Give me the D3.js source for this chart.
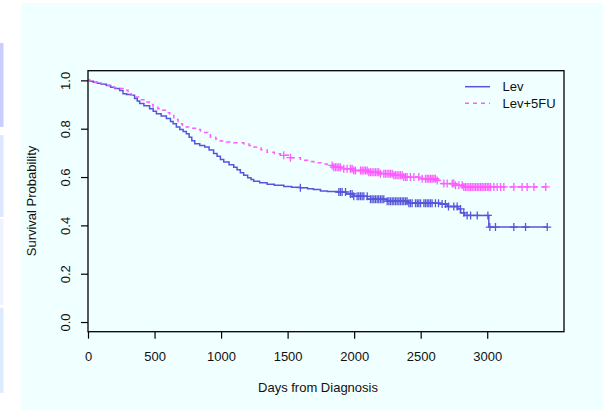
<!DOCTYPE html>
<html lang="en">
<head>
<meta charset="UTF-8">
<title>Survival by treatment</title>
<script src="https://d3js.org/d3.v7.min.js"></script>
<style>
    body { margin: 0; background: #ffffff; }
    svg { display: block; font-family: "Liberation Sans", Arial, sans-serif; }
    .tick text { font-size: 13px; fill: #111; }
</style>
</head>
<body>
<svg id="chart" width="603" height="413"></svg>
<script>
// Lev arm: event times (days) and survival after each step
const levTime = [0, 12, 40, 70, 100, 138, 170, 200, 238, 263, 290, 326, 350, 370, 388, 420, 463, 490, 514, 550, 589,
    620, 640, 664, 690, 715, 739, 760, 780, 802, 840, 877, 910, 944, 970, 995, 1020, 1060, 1095, 1120, 1145, 1170,
    1200, 1225, 1245, 1290, 1346, 1400, 1471, 1530, 1596, 1650, 1694, 1747, 1800, 1884, 1940, 1997, 2100, 2248,
    2400, 2650, 2700, 2780, 2800, 2830, 3012];
const levSurv = [1.0, 0.996, 0.992, 0.988, 0.984, 0.979, 0.972, 0.966, 0.958, 0.945, 0.942, 0.938, 0.925, 0.915,
    0.904, 0.895, 0.883, 0.872, 0.862, 0.853, 0.842, 0.830, 0.820, 0.807, 0.797, 0.788, 0.779, 0.765, 0.750, 0.738,
    0.731, 0.724, 0.712, 0.697, 0.686, 0.673, 0.662, 0.651, 0.641, 0.630, 0.618, 0.607, 0.597, 0.590, 0.583, 0.576,
    0.570, 0.566, 0.561, 0.558, 0.556, 0.552, 0.548, 0.542, 0.540, 0.538, 0.530, 0.520, 0.508, 0.500, 0.492, 0.488,
    0.478, 0.468, 0.452, 0.441, 0.393];
const levCensor = [1596, 1885, 1897, 1910, 1935, 1972, 1985, 1997, 2022, 2035, 2048, 2060, 2073, 2098, 2123, 2135, 2148,
    2160, 2173, 2185, 2198, 2210, 2223, 2248, 2261, 2273, 2286, 2298, 2311, 2323, 2336, 2348, 2361, 2373, 2386, 2398,
    2411, 2423, 2436, 2461, 2474, 2486, 2499, 2524, 2536, 2549, 2561, 2574, 2586, 2611, 2634, 2661, 2686, 2709, 2749,
    2774, 2799, 2824, 2849, 2875, 2925, 3005, 3020, 3062, 3200, 3288, 3451];

// Lev+5FU arm
const lev5Time = [0, 12, 50, 87, 120, 162, 200, 238, 275, 301, 325, 350, 390, 426, 460, 489, 525, 564, 590, 614, 645,
    677, 710, 739, 775, 814, 845, 877, 900, 920, 960, 995, 1040, 1095, 1170, 1210, 1245, 1300, 1346, 1400, 1446,
    1520, 1596, 1650, 1696, 1750, 1797, 1847, 1920, 1997, 2100, 2198, 2290, 2373, 2500, 2624, 2649, 2750, 2824];
const lev5Surv = [1.0, 0.997, 0.991, 0.986, 0.980, 0.972, 0.969, 0.966, 0.959, 0.945, 0.938, 0.931, 0.920, 0.910,
    0.900, 0.890, 0.883, 0.876, 0.866, 0.855, 0.838, 0.821, 0.814, 0.807, 0.802, 0.797, 0.790, 0.784, 0.775, 0.765,
    0.757, 0.749, 0.745, 0.742, 0.738, 0.731, 0.724, 0.713, 0.703, 0.696, 0.690, 0.680, 0.669, 0.664, 0.659, 0.654,
    0.648, 0.641, 0.634, 0.627, 0.620, 0.614, 0.607, 0.600, 0.593, 0.586, 0.573, 0.566, 0.559];
const lev5Censor = [1471, 1521, 1835, 1847, 1860, 1872, 1885, 1897, 1922, 1947, 1972, 1985, 1997, 2010, 2048, 2060,
    2073, 2085, 2098, 2110, 2123, 2135, 2148, 2160, 2173, 2185, 2198, 2223, 2235, 2248, 2261, 2273, 2286, 2298, 2311,
    2323, 2336, 2348, 2361, 2373, 2386, 2398, 2423, 2449, 2486, 2511, 2536, 2549, 2561, 2574, 2586, 2599, 2611, 2624,
    2674, 2699, 2737, 2749, 2762, 2787, 2812, 2824, 2837, 2849, 2862, 2875, 2887, 2900, 2912, 2925, 2937, 2950, 2962,
    2975, 2987, 3000, 3012, 3025, 3050, 3075, 3100, 3125, 3200, 3262, 3300, 3351, 3440];

const lastTime = 3456;
const seriesNames = ["Lev", "Lev+5FU"];
const seriesColors = ["#5656dc", "#ff5cff"];
const xTicks = [0, 500, 1000, 1500, 2000, 2500, 3000];
const yTicks = [0, 0.2, 0.4, 0.6, 0.8, 1.0];

const svg = d3.select("#chart");

// page decoration: light panel and the left strip boxes
svg.append("rect").attr("x", 21).attr("y", 3).attr("width", 582).attr("height", 407).attr("fill", "#f0ffff");
const strips = [[43, 127, "#c9cdff"], [135, 217, "#dde7ff"], [219, 305, "#eef3ff"], [308, 393, "#dcebff"]];
strips.forEach(s => svg.append("rect").attr("x", 0).attr("y", s[0]).attr("width", 3.5)
    .attr("height", s[1] - s[0]).attr("fill", s[2]));

const x = d3.scaleLinear().domain([0, 3577]).range([88, 564]);
const y = d3.scaleLinear().domain([-0.04, 1.04]).range([331.7, 70.7]);

function survAt(times, surv, t) {
    let s = surv[0];
    for (let i = 0; i < times.length; i++) { if (times[i] <= t) s = surv[i]; }
    return s;
}

const arms = [
    { time: levTime, surv: levSurv, censor: levCensor, color: seriesColors[0], dash: null },
    { time: lev5Time, surv: lev5Surv, censor: lev5Censor, color: seriesColors[1], dash: "4,4" }
];

const line = d3.line().x(d => x(d[0])).y(d => y(d[1])).curve(d3.curveStepAfter);

arms.forEach(a => {
    const pts = a.time.map((t, i) => [t, a.surv[i]]);
    pts.push([lastTime, a.surv[a.surv.length - 1]]);
    svg.append("path").datum(pts)
        .attr("fill", "none").attr("stroke", a.color).attr("stroke-width", 1.5)
        .attr("stroke-dasharray", a.dash).attr("d", line);

    svg.append("g").selectAll("path").data(a.censor).enter().append("path")
        .attr("transform", t => `translate(${x(t)},${y(survAt(a.time, a.surv, t))})`)
        .attr("d", "M-4,0H4M0,-4V4")
        .attr("stroke", a.color).attr("stroke-width", 1.3).attr("fill", "none");
});

// frame
svg.append("rect").attr("x", 88).attr("y", 70.7).attr("width", 476).attr("height", 261)
    .attr("fill", "none").attr("stroke", "#000").attr("stroke-width", 1.3);

// x axis
const xg = svg.append("g").attr("transform", "translate(0,331.7)")
    .call(d3.axisBottom(x).tickValues(xTicks).tickFormat(d3.format("d")).tickSize(7).tickPadding(13));
xg.select(".domain").remove();
xg.selectAll(".tick line").attr("stroke", "#000").attr("stroke-width", 1.2);

// y axis with rotated labels
const yg = svg.append("g").attr("transform", "translate(88,0)")
    .call(d3.axisLeft(y).tickValues(yTicks).tickFormat(d3.format(".1f")).tickSize(7));
yg.select(".domain").remove();
yg.selectAll(".tick line").attr("stroke", "#000").attr("stroke-width", 1.2);
yg.selectAll(".tick text")
    .attr("transform", "rotate(-90)")
    .attr("x", 0).attr("y", -18).attr("dy", 0)
    .attr("text-anchor", "middle");

// axis titles
svg.append("text").attr("x", 318).attr("y", 392).attr("text-anchor", "middle")
    .style("font-size", "13px").attr("fill", "#111").text("Days from Diagnosis");
svg.append("text").attr("transform", "translate(36,201) rotate(-90)").attr("text-anchor", "middle")
    .style("font-size", "13px").attr("fill", "#111").text("Survival Probability");

// legend
seriesNames.forEach((name, i) => {
    const ly = 86.7 + i * 16.6;
    svg.append("line").attr("x1", 465).attr("x2", 490).attr("y1", ly).attr("y2", ly)
        .attr("stroke", seriesColors[i]).attr("stroke-width", 1.5)
        .attr("stroke-dasharray", i === 1 ? "4,4" : null);
    svg.append("text").attr("x", 502.5).attr("y", ly + 4.5)
        .style("font-size", "13px").attr("fill", "#111").text(name);
});
</script>
</body>
</html>
